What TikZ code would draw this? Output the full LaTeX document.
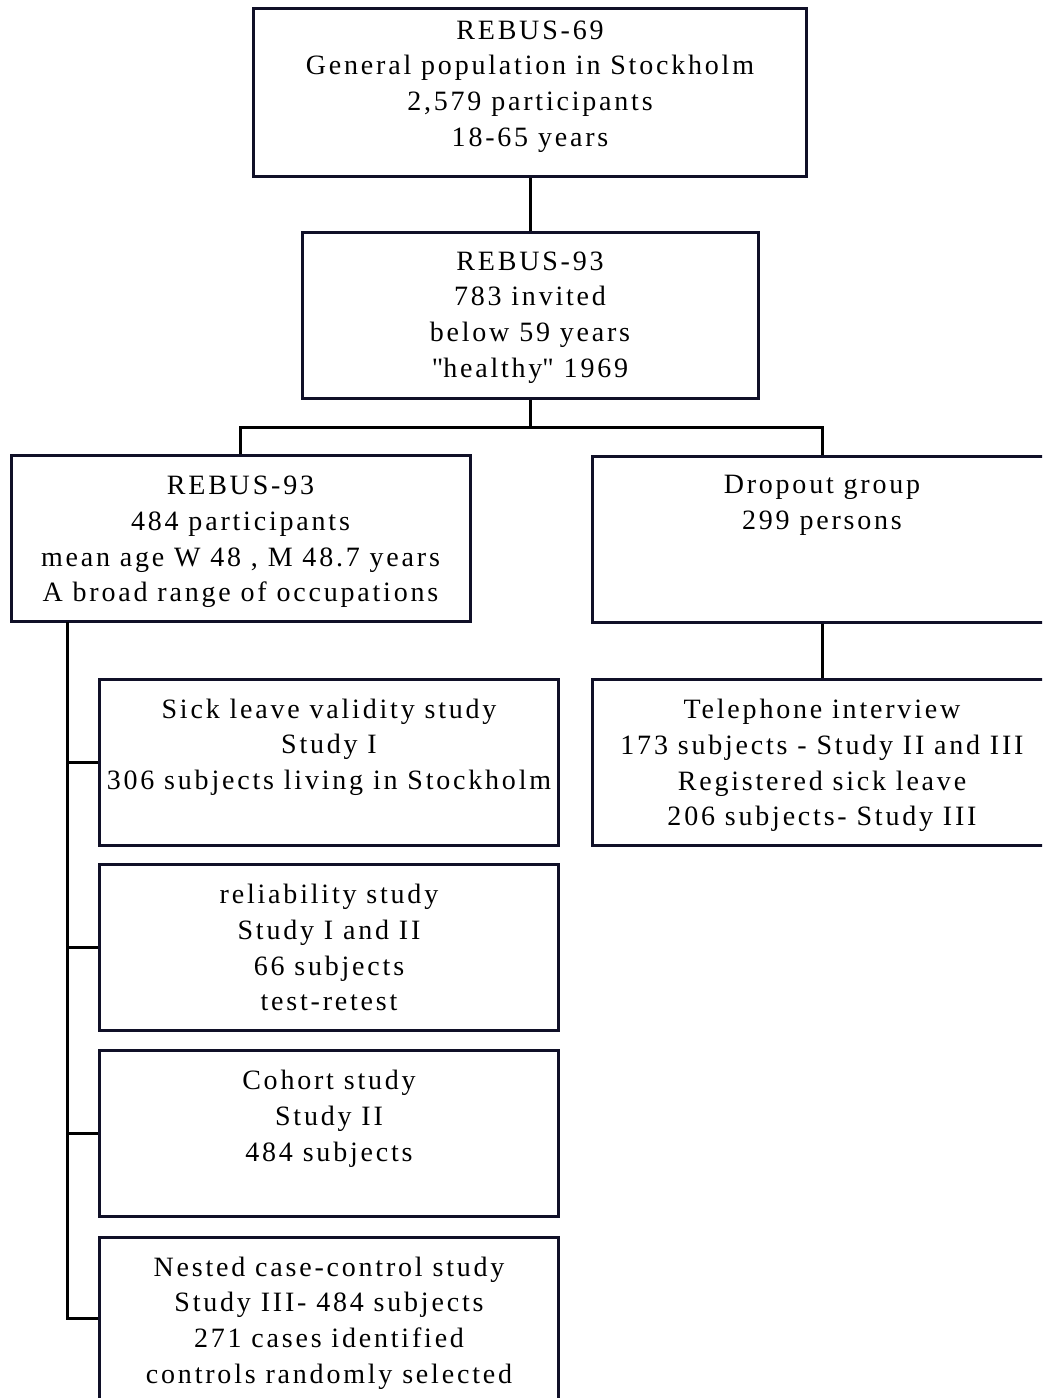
\documentclass[tikz,border=0pt]{standalone}
\usepackage{fontspec}
\setmainfont{Liberation Serif}[LetterSpace=10]
\usetikzlibrary{positioning}
\definecolor{boxline}{RGB}{16,16,40}
\tikzset{x=1pt,y=-1pt}
\tikzset{studybox/.style={draw=boxline,line width=3pt,inner sep=0pt,
        minimum width=459pt,minimum height=166pt}}
\tikzset{boxtext/.style={align=center,inner sep=0pt,
        font=\fontsize{28}{35.7}\selectfont}}
\tikzset{link/.style={line width=3pt,black}}

\begin{document}
\begin{tikzpicture}
    \useasboundingbox (0,0) rectangle (1042,1398);
    \clip (0,0) rectangle (1042,1398);
    % boxes
    \node[studybox,minimum width=553pt,minimum height=168pt] (rebus69) at (530,92) {};
    \node[studybox,minimum width=456pt] (rebus93) at (530,315) {};
    \node[studybox] (part) at (240.5,538.5) {};
    \node[studybox,minimum width=460pt] (drop) at (822,539.5) {};
    \node[studybox,minimum width=460pt] (tel) at (822,762.5) {};
    \node[studybox] (sick) at (329,762) {};
    \node[studybox] (rel) at (329,947.5) {};
    \node[studybox] (coh) at (329,1133.5) {};
    \node[studybox,minimum height=162pt] (nest) at (329,1318) {};
    % texts
    \node[boxtext,below=14pt of rebus69.north] (rebus69txt)
        {REBUS-69\\General population in Stockholm\\2,579 participants\\18-65 years};
    \node[boxtext,below=21pt of rebus93.north] (rebus93txt)
        {REBUS-93\\783 invited\\below 59 years\\\textquotedbl healthy\textquotedbl{} 1969};
    \node[boxtext,below=22pt of part.north] (parttxt)
        {REBUS-93\\484 participants\\mean age W 48 , M 48.7 years\\A broad range of occupations};
    \node[boxtext,below=20pt of drop.north] (droptxt)
        {Dropout group\\299 persons};
    \node[boxtext,below=21pt of tel.north] (teltxt)
        {Telephone interview\\173 subjects - Study II and III\\Registered sick leave\\206 subjects- Study III};
    \node[boxtext,below=21pt of sick.north] (sicktxt)
        {Sick leave validity study\\Study I\\306 subjects living in Stockholm};
    \node[boxtext,below=21pt of rel.north] (reltxt)
        {reliability study\\Study I and II\\66 subjects\\test-retest};
    \node[boxtext,below=21pt of coh.north] (cohtxt)
        {Cohort study\\Study II\\484 subjects};
    \node[boxtext,below=21pt of nest.north] (nesttxt)
        {Nested case-control study\\Study III- 484 subjects\\271 cases identified\\controls randomly selected};
    % connectors
    \coordinate (split) at (530,427);
    \coordinate (trunk) at (67,622);
    \draw[link] (rebus69.south) -- (rebus93.north);
    \draw[link] (rebus93.south) -- (split);
    \draw[link] (split) -| (part.north);
    \draw[link] (split) -| (drop.north);
    \draw[link] (drop.south) -- (tel.north);
    \draw[link] (trunk) |- (sick.west);
    \draw[link] (trunk) |- (rel.west);
    \draw[link] (trunk) |- (coh.west);
    \draw[link] (trunk) |- (nest.west);
\end{tikzpicture}
\end{document}
